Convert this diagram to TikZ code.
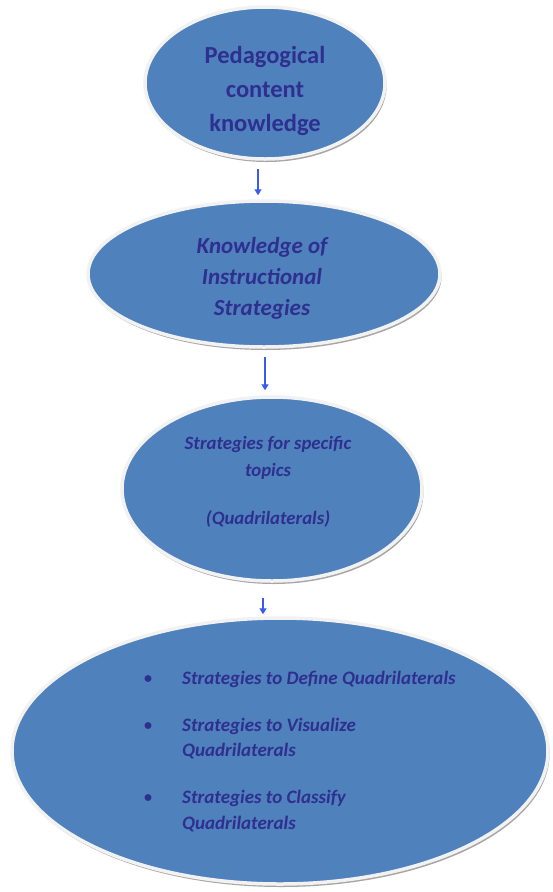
\documentclass[tikz,border=0pt]{standalone}
\usepackage{fontspec}
\setmainfont{Carlito}
\usetikzlibrary{shapes.geometric,shadows,arrows.meta}
\definecolor{ellfill}{HTML}{4F81BD}
\definecolor{txt}{HTML}{2E2F8F}
\definecolor{arrblue}{HTML}{3A5BF0}
\definecolor{rim}{HTML}{F2F2F2}
\begin{document}
\begin{tikzpicture}[x=1pt,y=-1pt,
  ell/.style={ellipse, fill=ellfill, draw=rim, line width=3.5pt, inner sep=0pt,
    drop shadow={shadow xshift=1.5pt, shadow yshift=-3pt, fill=black!35, opacity=1}},
  lbl/.style={text=txt, font=\bfseries\itshape, align=center, inner sep=0pt},
  lline/.style={text=txt, font=\fontsize{19}{25}\selectfont\bfseries\itshape, inner sep=0pt, anchor=base west},
  bul/.style={text=txt, font=\fontsize{16}{20}\selectfont\bfseries, inner sep=0pt, anchor=base},
  arr/.style={draw=arrblue, line width=1.2pt, -{Triangle[width=7pt,length=6pt]}}]
\useasboundingbox (0,0) rectangle (553,892);
\fill[white] (0,0) rectangle (553,892);

\node[ell, minimum width=240pt, minimum height=152pt] (e1) at (265,83) {};
\node[ell, minimum width=352pt, minimum height=146pt] (e2) at (264,274) {};
\node[ell, minimum width=300pt, minimum height=184pt] (e3) at (272,489) {};
\node[ell, minimum width=536pt, minimum height=266pt] (e4) at (280,751) {};

\node[lbl, font=\fontsize{24.5}{34}\selectfont\bfseries] (t1) at (265,91) {Pedagogical\\content\\knowledge};
\node[lbl, font=\fontsize{23}{31}\selectfont\bfseries\itshape] (t2) at (262,278) {Knowledge of\\Instructional\\Strategies};
\node[lbl, font=\fontsize{18.8}{27}\selectfont\bfseries\itshape] (t3) at (268,482) {Strategies for specific\\topics\\[21pt](Quadrilaterals)};

\node[bul] (b1) at (148,683) {•};
\node[bul] (b2) at (148,730) {•};
\node[bul] (b3) at (148,802) {•};
\node[lline] (l1) at (182,684) {Strategies to Define Quadrilaterals};
\node[lline] (l2) at (182,731) {Strategies to Visualize};
\node[lline] (l2b) at (182,756) {Quadrilaterals};
\node[lline] (l3) at (182,803) {Strategies to Classify};
\node[lline] (l3b) at (182,829) {Quadrilaterals};

\draw[arr] ([xshift=-7pt,yshift=-8pt]e1.south) -- ([xshift=-6pt,yshift=4pt]e2.north);
\draw[arr] ([xshift=1pt,yshift=-8pt]e2.south) -- ([xshift=-7pt,yshift=5pt]e3.north);
\draw[arr] ([xshift=-9pt,yshift=-15pt]e3.south) -- ([xshift=-17pt,yshift=2pt]e4.north);
\end{tikzpicture}
\end{document}
